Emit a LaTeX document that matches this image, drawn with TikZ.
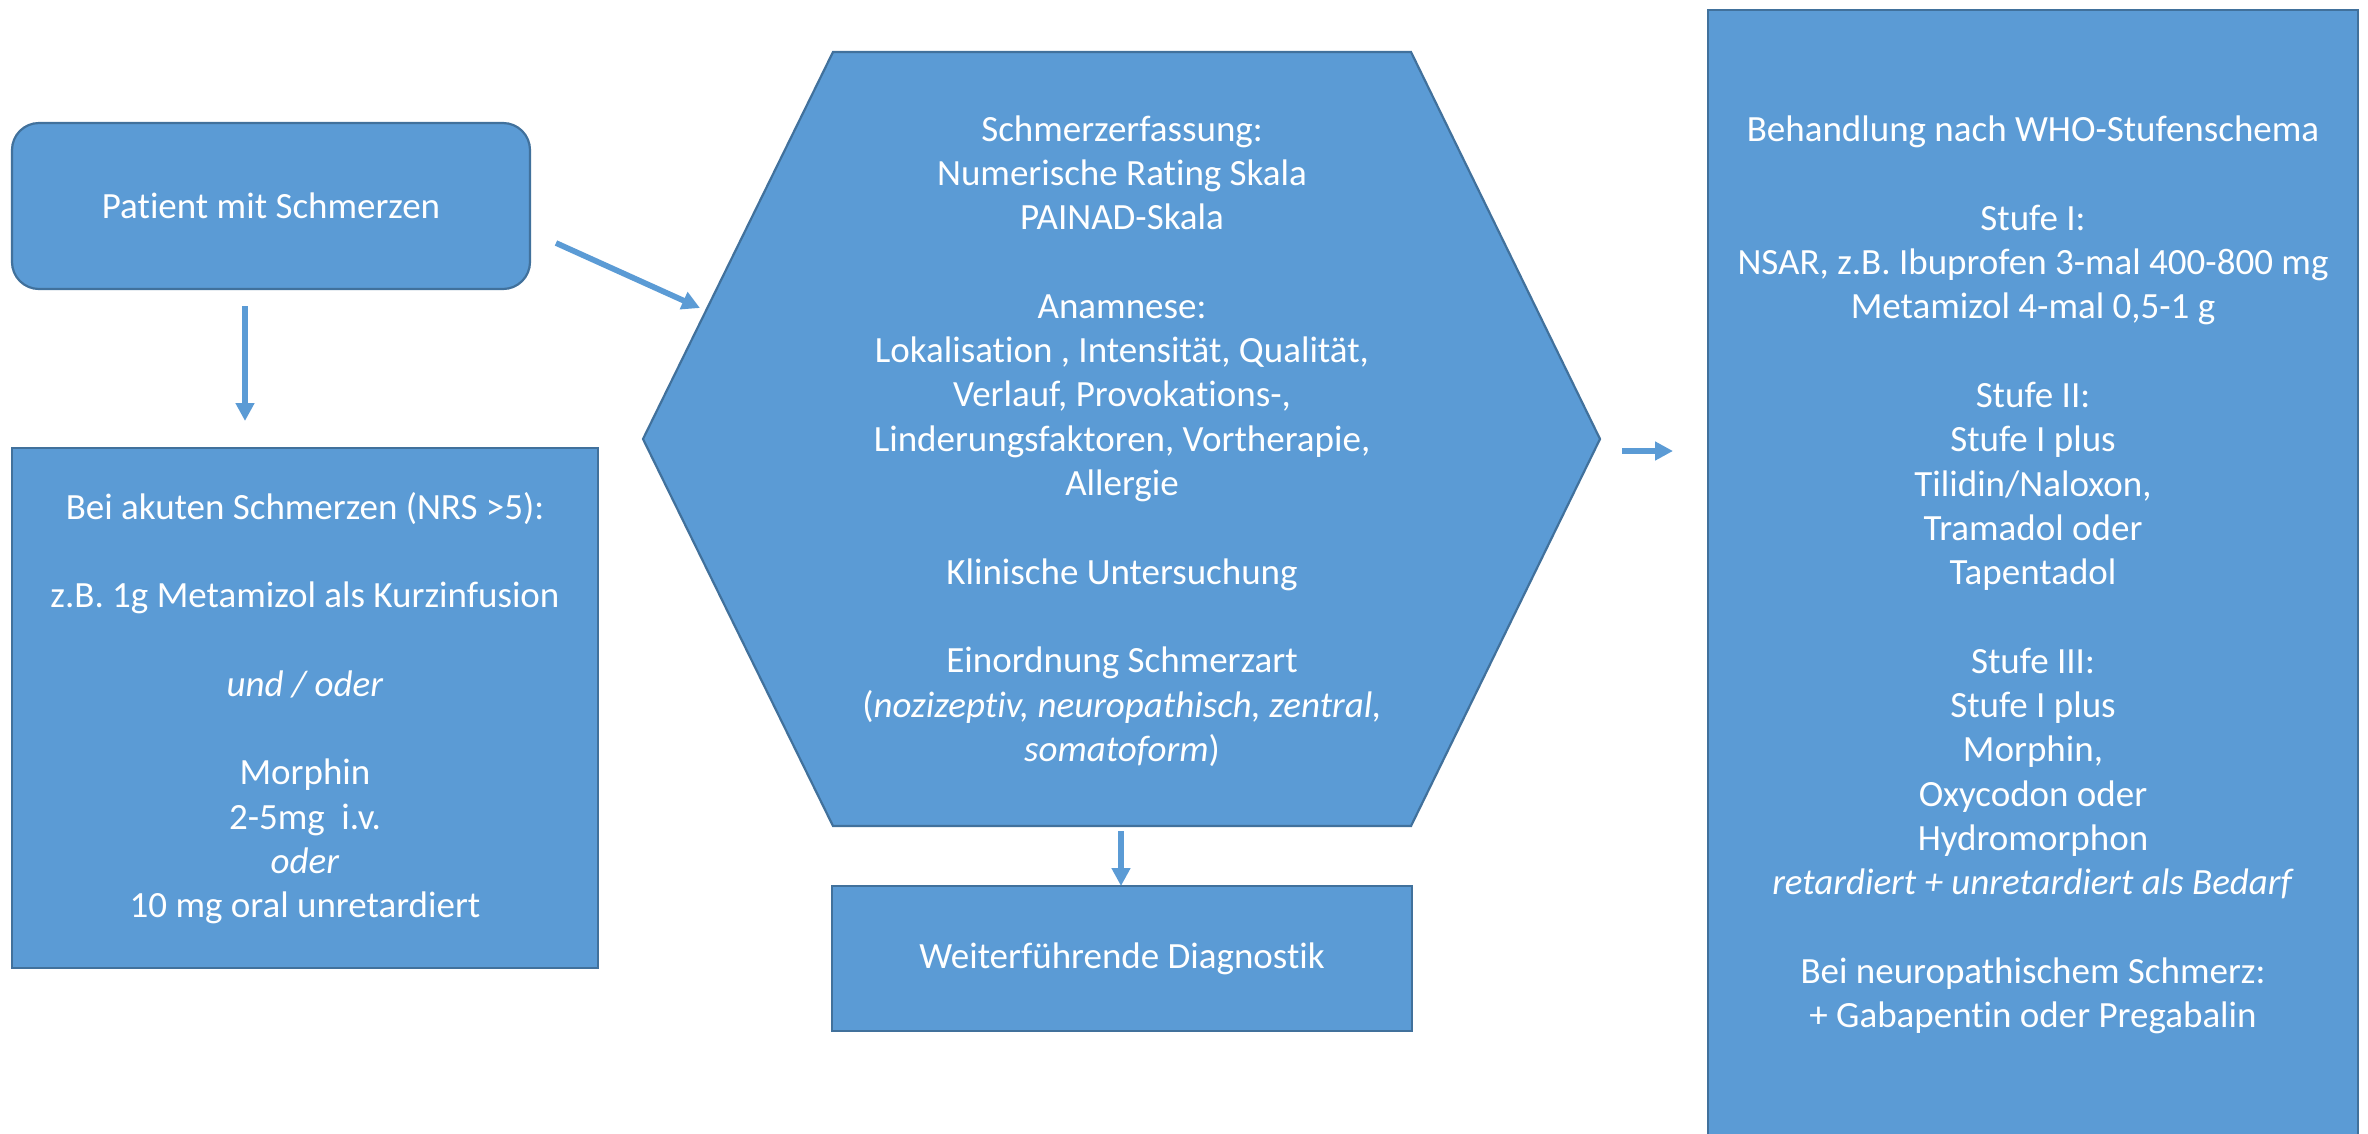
\documentclass[tikz,border=0pt]{standalone}
\usepackage{fontspec}
\setmainfont{Carlito}[Ligatures={NoCommon,NoContextual}]
\usetikzlibrary{arrows.meta}
\definecolor{boxfill}{HTML}{5B9BD5}
\definecolor{boxline}{HTML}{41719C}
% one empty line between paragraphs inside a node
\newcommand{\emptyrow}{\\[44.3pt]}
\begin{document}
\begin{tikzpicture}[x=1pt,y=-1pt,
  txt/.style={text=white, align=center, inner sep=0pt, font=\fontsize{37}{44.3}\selectfont},
  box/.style={txt, draw=boxline, fill=boxfill, line width=2.2pt},
  hexline/.style={draw=boxline, fill=boxfill, line width=2.2pt, line join=miter},
  flow/.style={draw=boxfill, line width=5.7pt, -{Triangle[length=18pt,width=18pt]}},
]
\clip (0,0) rectangle (2368,1133);
\fill[white] (0,0) rectangle (2368,1133);

% left column
\node[box, rounded corners=27pt, minimum width=518pt, minimum height=166pt]
  (patient) at (271,206) {Patient mit Schmerzen};

\node[box, minimum width=586pt, minimum height=520pt] (acute) at (305,708)
  {Bei akuten Schmerzen (NRS >5):\emptyrow
   z.B. 1g Metamizol als Kurzinfusion\emptyrow
   \textit{und / oder}\emptyrow
   Morphin\\
   2-5mg\hspace{0.45em}i.v.\\
   \textit{oder}\\
   10 mg oral unretardiert};

% middle column: assessment hexagon
\draw[hexline] (833,52) -- (1411,52) -- (1600,439) -- (1411,826)
  -- (833,826) -- (643,439) -- cycle;
\node[txt] (assess) at (1122,441)
  {Schmerzerfassung:\\
   Numerische Rating Skala\\
   PAINAD-Skala\emptyrow
   Anamnese:\\
   Lokalisation , Intensität, Qualität,\\
   Verlauf, Provokations-,\\
   Linderungsfaktoren, Vortherapie,\\
   Allergie\emptyrow
   Klinische Untersuchung\emptyrow
   Einordnung Schmerzart\\
   (\textit{nozizeptiv, neuropathisch, zentral,}\\
   \textit{somatoform})};

\node[box, minimum width=580pt, minimum height=145pt] (diag) at (1122,958.5)
  {Weiterführende Diagnostik};

% right column: WHO ladder
\node[box, minimum width=650pt, minimum height=1130pt] (who) at (2033,575)
  {Behandlung nach WHO-Stufenschema\emptyrow
   Stufe I:\\
   NSAR, z.B. Ibuprofen 3-mal 400-800 mg\\
   Metamizol 4-mal 0,5-1 g\emptyrow
   Stufe II:\\
   Stufe I plus\\
   Tilidin/Naloxon,\\
   Tramadol oder\\
   Tapentadol\emptyrow
   Stufe III:\\
   Stufe I plus\\
   Morphin,\\
   Oxycodon oder\\
   Hydromorphon\\
   \textit{retardiert + unretardiert als Bedarf}\emptyrow
   Bei neuropathischem Schmerz:\\
   + Gabapentin oder Pregabalin};

% connector ends
\coordinate (p-down) at (245,306);
\coordinate (acute-in) at (245,421);
\coordinate (p-right) at (556,243);
\coordinate (assess-in) at (700,308);
\coordinate (assess-down) at (1121,831);
\coordinate (diag-in) at (1121,886);
\coordinate (assess-right) at (1622,451);
\coordinate (who-in) at (1673,451);

\draw[flow] (p-down) -- (acute-in);
\draw[flow] (p-right) -- (assess-in);
\draw[flow] (assess-down) -- (diag-in);
\draw[flow] (assess-right) -- (who-in);
\end{tikzpicture}
\end{document}
